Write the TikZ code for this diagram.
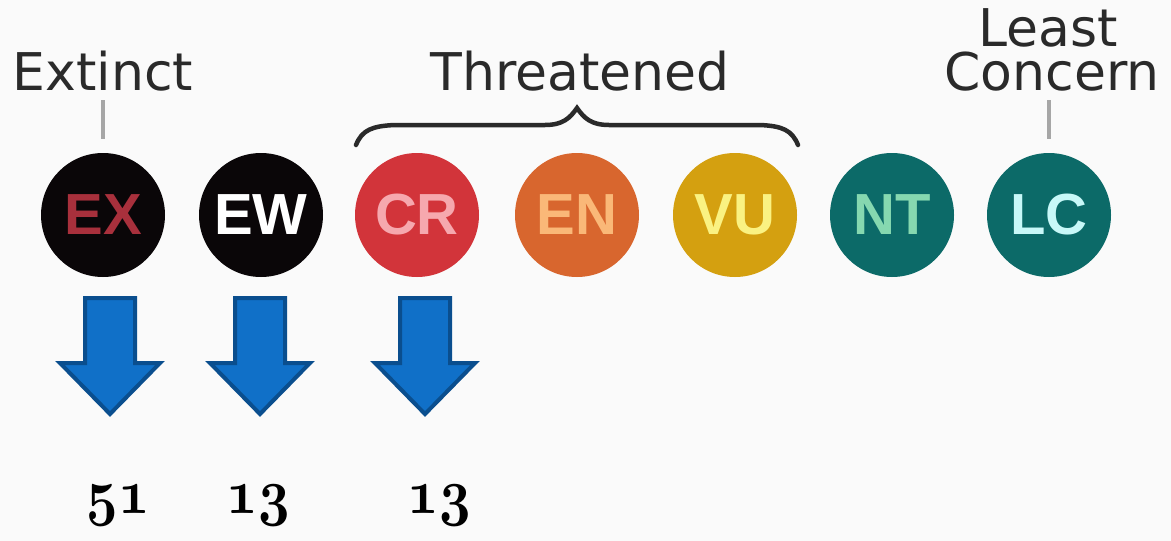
\documentclass[tikz,border=0pt]{standalone}
\usepackage{fontspec}
\newfontfamily\labfont{DejaVu Sans}
\newfontfamily\badgefont{Liberation Sans}
\definecolor{bg}{HTML}{FAFAFA}
\definecolor{exbg}{HTML}{0A0608}
\definecolor{extx}{HTML}{A8303C}
\definecolor{crbg}{HTML}{D2343A}
\definecolor{crtx}{HTML}{F6A8AE}
\definecolor{enbg}{HTML}{D8662E}
\definecolor{entx}{HTML}{FAB878}
\definecolor{vubg}{HTML}{D4A010}
\definecolor{vutx}{HTML}{FAF282}
\definecolor{ntbg}{HTML}{0C6A68}
\definecolor{nttx}{HTML}{86D8B0}
\definecolor{lctx}{HTML}{C8F8F8}
\definecolor{arfill}{HTML}{1070C8}
\definecolor{ardraw}{HTML}{0A4E8E}
\definecolor{ink}{HTML}{2A2A2A}
\newcommand\oldnum[1]{\scalebox{2.2}[2.55]{\usefont{OML}{cmm}{b}{it}\fontsize{24.88}{25}\selectfont #1}}
\tikzset{
  badge/.style={circle, minimum size=124pt, inner sep=0pt, font=\badgefont\bfseries\fontsize{58}{58}\selectfont},
  lab/.style={inner sep=0pt, anchor=base, font=\labfont\fontsize{52}{40}\selectfont, text=ink},
  tick/.style={draw=gray!70, line width=4pt},
  bracestyle/.style={draw=ink, line width=4.5pt, line cap=round},
  downarrow/.style={fill=arfill, draw=ardraw, line width=4pt, line join=miter},
  num/.style={inner sep=0pt, anchor=base}
}
\begin{document}
\begin{tikzpicture}[x=1pt,y=-1pt]
\fill[bg] (0,0) rectangle (1171,541);
\useasboundingbox (0,0) rectangle (1171,541);
% badges
\node[badge, fill=exbg, text=extx] (ex) at (103,215) {EX};
\node[badge, fill=exbg, text=white] (ew) at (261,215) {EW};
\node[badge, fill=crbg, text=crtx] (cr) at (417,215) {CR};
\node[badge, fill=enbg, text=entx] (en) at (577,215) {EN};
\node[badge, fill=vubg, text=vutx] (vu) at (735,215) {VU};
\node[badge, fill=ntbg, text=nttx] (nt) at (892,215) {NT};
\node[badge, fill=ntbg, text=lctx] (lc) at (1049,215) {LC};
% labels
\node[lab] (extinct) at (103,90) {Extinct};
\node[lab] (threat) at (580,90) {Threatened};
\node[lab] (least) at (1048,46) {Least};
\node[lab] (concern) at (1052,90) {Concern};
% ticks
\draw[tick] (103,100) coordinate (t1) -- (103,139) coordinate (t2);
\draw[tick] (1049,100) coordinate (t3) -- (1049,139) coordinate (t4);
% brace
\draw[bracestyle] (356,145) .. controls (362,130) and (372,126) .. (395,125)
  -- (545,125) .. controls (563,125) and (570,118) .. (577,108)
  .. controls (584,118) and (591,125) .. (609,125)
  -- (760,125) .. controls (782,126) and (792,130) .. (798,145);
% arrows
\foreach \cx/\nm in {110/a1, 260/a2, 425/a3}{
  \draw[downarrow] (\cx-25,298) -- (\cx+25,298) -- (\cx+25,363) -- (\cx+50,363)
    -- (\cx,414) -- (\cx-50,363) -- (\cx-25,363) -- cycle;
  \coordinate (\nm) at (\cx,414);
}
% numbers
\node[num] (n1) at (118,513) {\oldnum{51}};
\node[num] (n2) at (258,513) {\oldnum{13}};
\node[num] (n3) at (439,513) {\oldnum{13}};
\end{tikzpicture}
\end{document}
